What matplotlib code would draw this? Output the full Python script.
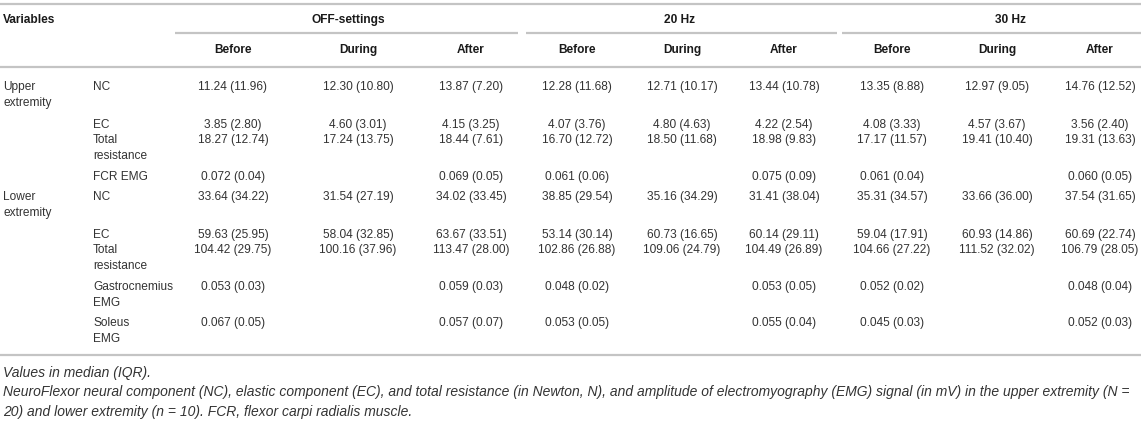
import matplotlib
matplotlib.use("Agg")
import matplotlib.pyplot as plt

# ---------------- data ----------------
groups = ["OFF-settings", "20 Hz", "30 Hz"]
phases = ["Before", "During", "After"]
regions = ["Upper extremity", "Lower extremity"]
upper_vars = ["NC", "EC", "Total resistance", "FCR EMG"]
lower_vars = ["NC", "EC", "Total resistance", "Gastrocnemius EMG", "Soleus EMG"]

# columns: OFF Before/During/After, 20 Hz Before/During/After, 30 Hz Before/During/After
upper_nc = ["11.24 (11.96)", "12.30 (10.80)", "13.87 (7.20)", "12.28 (11.68)", "12.71 (10.17)",
            "13.44 (10.78)", "13.35 (8.88)", "12.97 (9.05)", "14.76 (12.52)"]
upper_ec = ["3.85 (2.80)", "4.60 (3.01)", "4.15 (3.25)", "4.07 (3.76)", "4.80 (4.63)",
            "4.22 (2.54)", "4.08 (3.33)", "4.57 (3.67)", "3.56 (2.40)"]
upper_total = ["18.27 (12.74)", "17.24 (13.75)", "18.44 (7.61)", "16.70 (12.72)", "18.50 (11.68)",
               "18.98 (9.83)", "17.17 (11.57)", "19.41 (10.40)", "19.31 (13.63)"]
upper_fcr = ["0.072 (0.04)", "", "0.069 (0.05)", "0.061 (0.06)", "",
             "0.075 (0.09)", "0.061 (0.04)", "", "0.060 (0.05)"]
lower_nc = ["33.64 (34.22)", "31.54 (27.19)", "34.02 (33.45)", "38.85 (29.54)", "35.16 (34.29)",
            "31.41 (38.04)", "35.31 (34.57)", "33.66 (36.00)", "37.54 (31.65)"]
lower_ec = ["59.63 (25.95)", "58.04 (32.85)", "63.67 (33.51)", "53.14 (30.14)", "60.73 (16.65)",
            "60.14 (29.11)", "59.04 (17.91)", "60.93 (14.86)", "60.69 (22.74)"]
lower_total = ["104.42 (29.75)", "100.16 (37.96)", "113.47 (28.00)", "102.86 (26.88)", "109.06 (24.79)",
               "104.49 (26.89)", "104.66 (27.22)", "111.52 (32.02)", "106.79 (28.05)"]
lower_gastro = ["0.053 (0.03)", "", "0.059 (0.03)", "0.048 (0.02)", "",
                "0.053 (0.05)", "0.052 (0.02)", "", "0.048 (0.04)"]
lower_soleus = ["0.067 (0.05)", "", "0.057 (0.07)", "0.053 (0.05)", "",
                "0.055 (0.04)", "0.045 (0.03)", "", "0.052 (0.03)"]

upper_values = [upper_nc, upper_ec, upper_total, upper_fcr]
lower_values = [lower_nc, lower_ec, lower_total, lower_gastro, lower_soleus]

footnote1 = "Values in median (IQR)."
footnote2 = ("NeuroFlexor neural component (NC), elastic component (EC), and total resistance (in Newton, N), "
             "and amplitude of electromyography (EMG) signal (in mV) in the upper extremity (N =")
footnote3 = "20) and lower extremity (n = 10). FCR, flexor carpi radialis muscle."

# ---------------- layout ----------------
W, H = 1145, 423
fig = plt.figure(figsize=(W / 100, H / 100), dpi=100)
ax = fig.add_axes([0, 0, 1, 1])
ax.set_xlim(0, W)
ax.set_ylim(H, 0)
ax.axis("off")

FONT = "Liberation Sans"
FS = 8.6
FS_NOTE = 10.0
TXT = "#333333"
HDR = "#1a1a1a"
LINE = "#c4c4c4"
LH = 16  # line height in px

wrap = {"Upper extremity": ["Upper", "extremity"], "Lower extremity": ["Lower", "extremity"],
        "Total resistance": ["Total", "resistance"], "Gastrocnemius EMG": ["Gastrocnemius", "EMG"],
        "Soleus EMG": ["Soleus", "EMG"]}


def put(x, y, s, ha="left", weight="normal", style="normal", color=TXT, size=FS):
    lines = wrap.get(s, [s])
    for i, ln in enumerate(lines):
        ax.text(x, y + i * LH, ln, ha=ha, va="center", fontsize=size, family=FONT,
                weight=weight, style=style, color=color)


# horizontal rules
for yy in (4, 67, 355):
    ax.plot([0, 1141], [yy, yy], color=LINE, lw=1.6, solid_capstyle="butt")
group_spans = [(175, 518), (526, 837), (842, 1141)]
group_label_x = [348, 680, 1010]
for (x0, x1), gx, g in zip(group_spans, group_label_x, groups):
    ax.plot([x0, x1], [33, 33], color=LINE, lw=1.6, solid_capstyle="butt")
    put(gx, 20, g, ha="center", weight="bold", color=HDR)

put(3, 20, "Variables", weight="bold", color=HDR)

col_x = [233, 358, 471, 577, 682, 784, 892, 997, 1100]
for i, cx in enumerate(col_x):
    put(cx, 50, phases[i % 3], ha="center", weight="bold", color=HDR)

upper_y = [87, 125, 140, 177]
lower_y = [197, 235, 250, 287, 323]

for region, vars_, vals, ys in [(regions[0], upper_vars, upper_values, upper_y),
                                (regions[1], lower_vars, lower_values, lower_y)]:
    put(3, ys[0], region)
    for v, row, y in zip(vars_, vals, ys):
        put(93, y, v)
        for cx, cell in zip(col_x, row):
            if cell:
                put(cx, y, cell, ha="center")

put(3, 373, footnote1, style="italic", size=FS_NOTE)
put(3, 392, footnote2, style="italic", size=FS_NOTE)
put(3, 412, footnote3, style="italic", size=FS_NOTE)

fig.savefig("out.png", dpi=100)
